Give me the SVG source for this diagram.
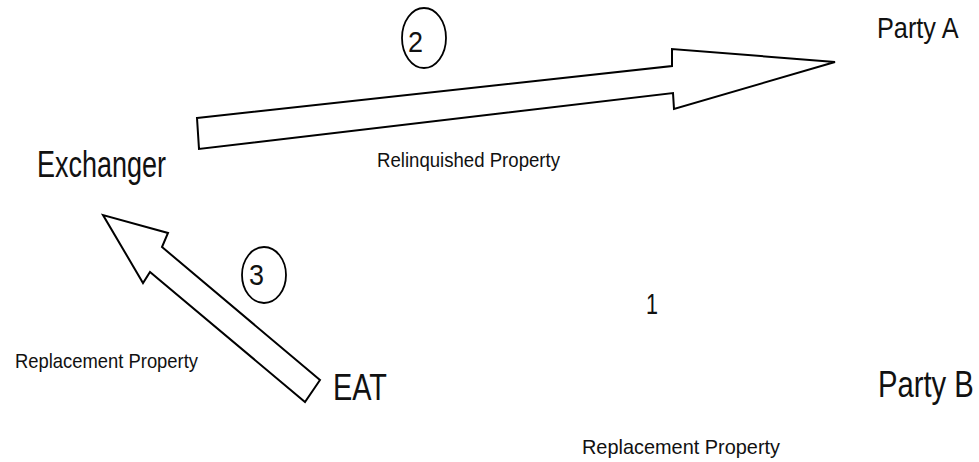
<svg xmlns="http://www.w3.org/2000/svg" width="979" height="462" viewBox="0 0 979 462">
  <style>
    text { font-family: "Liberation Sans", Arial, sans-serif; fill: #111; }
    .node { font-size: 37px; }
    .node-sm { font-size: 30px; }
    .label { font-size: 21px; }
    .step { font-size: 29px; }
    .arrow { fill: #fff; stroke: #000; stroke-width: 2; stroke-linejoin: miter; }
    .badge { fill: none; stroke: #000; stroke-width: 1.8; }
  </style>
  <rect width="979" height="462" fill="#fff"/>

  <!-- parties -->
  <g id="exchanger">
    <text class="node" x="37" y="177" textLength="129" lengthAdjust="spacingAndGlyphs">Exchanger</text>
  </g>
  <g id="party-a">
    <text class="node-sm" transform="translate(877 38) scale(0.843 1)">Party A</text>
  </g>
  <g id="party-b">
    <text class="node" transform="translate(878 397) scale(0.79 1)">Party B</text>
  </g>
  <g id="eat">
    <text class="node" x="333" y="400" textLength="54" lengthAdjust="spacingAndGlyphs">EAT</text>
  </g>

  <!-- transfers -->
  <g id="connectors">
    <!-- step 2: relinquished property to Party A -->
    <g id="step-2">
      <polygon class="arrow" points="197,118 672,66 672,49 835,62 674,109 673,93 199,149"/>
      <ellipse class="badge" cx="424" cy="38" rx="22" ry="30"/>
      <text class="step" x="408" y="52" textLength="15" lengthAdjust="spacingAndGlyphs">2</text>
      <text class="label" x="377" y="167" textLength="183" lengthAdjust="spacingAndGlyphs">Relinquished Property</text>
    </g>
    <!-- step 3: replacement property back to Exchanger -->
    <g id="step-3">
      <polygon class="arrow" points="320,380 162,247 168,233 103,215 143,283 150,272 305,402"/>
      <ellipse class="badge" cx="264" cy="275" rx="22" ry="28"/>
      <text class="step" x="249" y="285" textLength="15" lengthAdjust="spacingAndGlyphs">3</text>
      <text class="label" x="15" y="368" textLength="183" lengthAdjust="spacingAndGlyphs">Replacement Property</text>
    </g>
    <!-- step 1 -->
    <g id="step-1">
      <text class="step" x="646" y="314" textLength="12" lengthAdjust="spacingAndGlyphs">1</text>
      <text class="label" x="582" y="454" textLength="198" lengthAdjust="spacingAndGlyphs">Replacement Property</text>
    </g>
  </g>
</svg>
